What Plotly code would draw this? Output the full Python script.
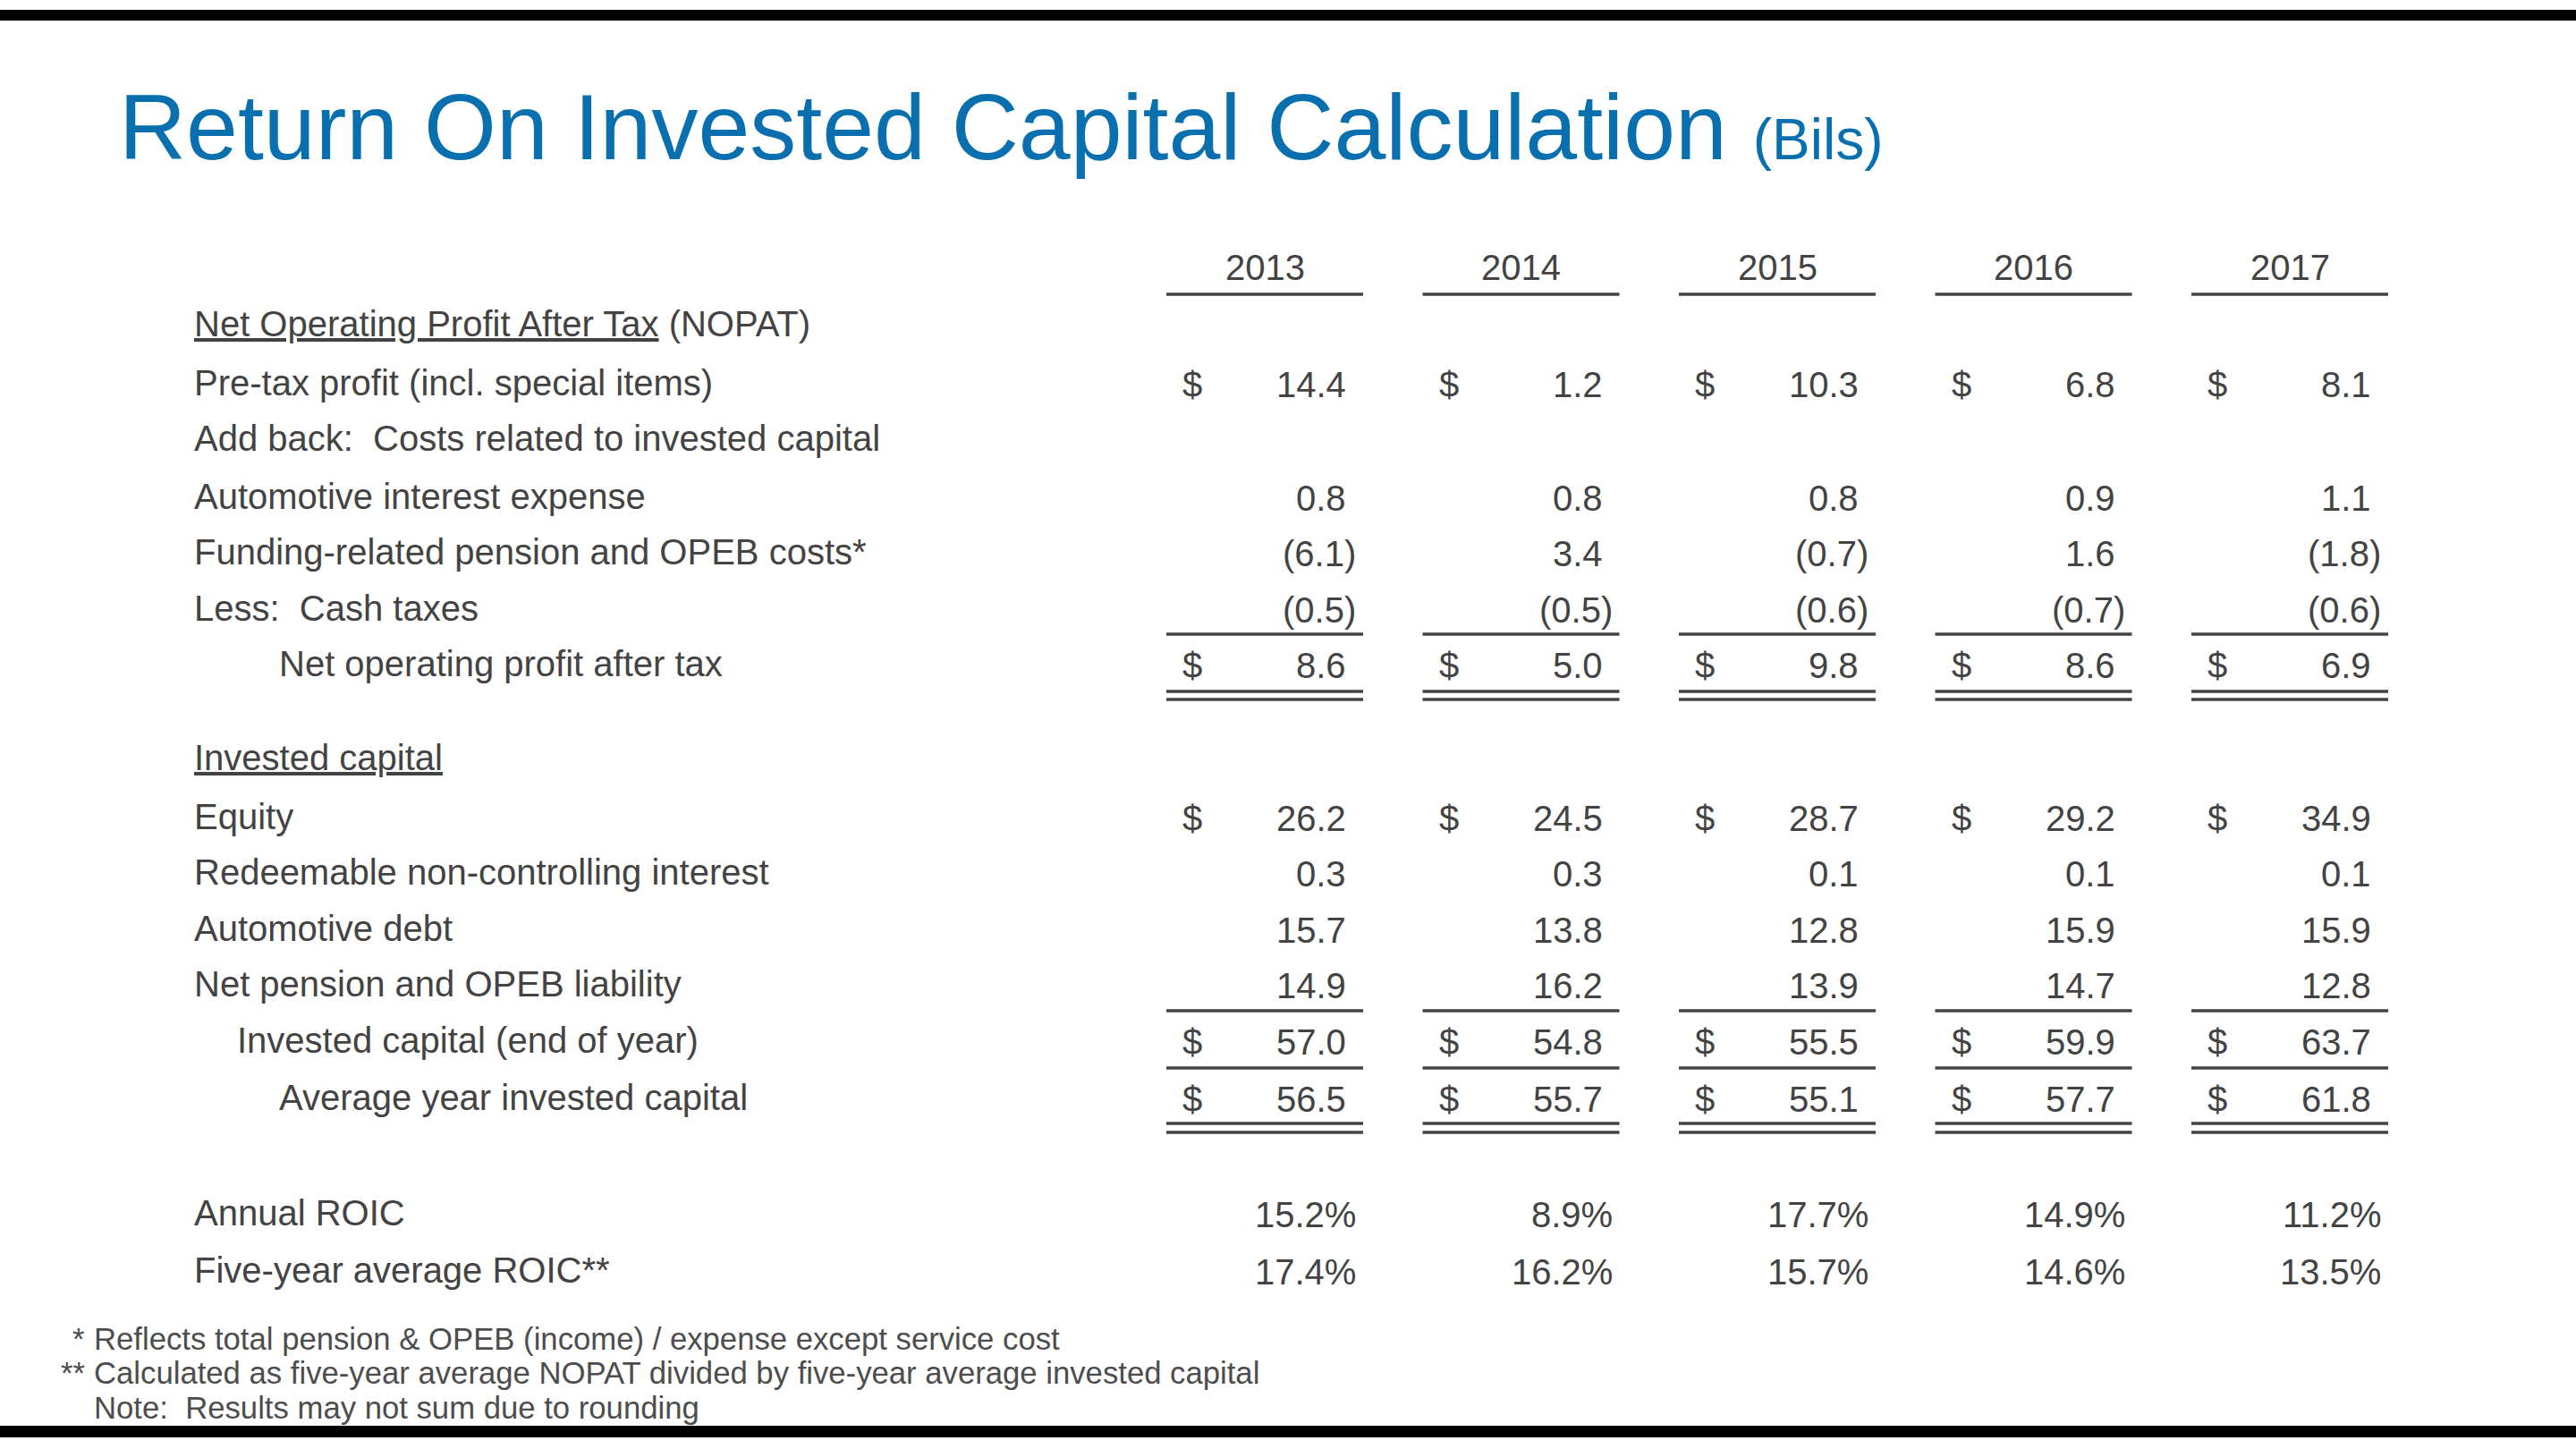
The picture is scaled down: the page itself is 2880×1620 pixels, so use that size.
import plotly.graph_objects as go

# ---------------- data ----------------
years = ["2013", "2014", "2015", "2016", "2017"]
pretax_profit = [14.4, 1.2, 10.3, 6.8, 8.1]
auto_interest = [0.8, 0.8, 0.8, 0.9, 1.1]
pension_costs = [-6.1, 3.4, -0.7, 1.6, -1.8]
cash_taxes = [-0.5, -0.5, -0.6, -0.7, -0.6]
nopat = [8.6, 5.0, 9.8, 8.6, 6.9]
equity = [26.2, 24.5, 28.7, 29.2, 34.9]
redeemable_nci = [0.3, 0.3, 0.1, 0.1, 0.1]
auto_debt = [15.7, 13.8, 12.8, 15.9, 15.9]
pension_liability = [14.9, 16.2, 13.9, 14.7, 12.8]
ic_end = [57.0, 54.8, 55.5, 59.9, 63.7]
ic_avg = [56.5, 55.7, 55.1, 57.7, 61.8]
annual_roic = [15.2, 8.9, 17.7, 14.9, 11.2]
five_year_roic = [17.4, 16.2, 15.7, 14.6, 13.5]

footnotes = [
    ("*", "Reflects total pension & OPEB (income) / expense except service cost"),
    ("**", "Calculated as five-year average NOPAT divided by five-year average invested capital"),
    ("", "Note:  Results may not sum due to rounding"),
]

# rows: (label, indent level, values, dollar sign, kind)
rows = [
    ("<u>Net Operating Profit After Tax</u> (NOPAT)", 0, None, False, "num"),
    ("Pre-tax profit (incl. special items)", 0, pretax_profit, True, "num"),
    ("Add back:  Costs related to invested capital", 0, None, False, "num"),
    ("Automotive interest expense", 0, auto_interest, False, "num"),
    ("Funding-related pension and OPEB costs*", 0, pension_costs, False, "num"),
    ("Less:  Cash taxes", 0, cash_taxes, False, "num"),
    ("Net operating profit after tax", 2, nopat, True, "num"),
    ("<u>Invested capital</u>", 0, None, False, "num"),
    ("Equity", 0, equity, True, "num"),
    ("Redeemable non-controlling interest", 0, redeemable_nci, False, "num"),
    ("Automotive debt", 0, auto_debt, False, "num"),
    ("Net pension and OPEB liability", 0, pension_liability, False, "num"),
    ("Invested capital (end of year)", 1, ic_end, True, "num"),
    ("Average year invested capital", 2, ic_avg, True, "num"),
    ("Annual ROIC", 0, annual_roic, False, "pct"),
    ("Five-year average ROIC**", 0, five_year_roic, False, "pct"),
]

# ---------------- layout constants ----------------
W, H = 2880, 1620
ROW_Y = [362, 428, 490, 555, 617, 680, 742, 847, 913, 975, 1038, 1100, 1163, 1227, 1356, 1420]
LABEL_X = 215
INDENT = [0, 48, 95]
COL0 = 1304
COL_STEP = 286.5
COL_W = 220
HEADER_Y = 299
HEADER_LINE_Y = 329
SINGLE_LINES = [709, 1130, 1194]
DOUBLE_LINES = [(773, 782), (1256, 1266)]
FOOT_Y = [1497, 1535, 1574]

TEXT = "#434343"
BLUE = "#0a6fae"
BODY_FONT = "Liberation Sans, Arial, sans-serif"
TITLE_FONT = "Liberation Sans, Arial, sans-serif"
FOOT_FONT = "Liberation Sans, Arial, sans-serif"
BODY_SIZE = 40

fig = go.Figure()
fig.add_trace(go.Scatter(x=[0, W], y=[0, H], mode="markers",
                         marker=dict(opacity=0), hoverinfo="skip", showlegend=False))

ann = []
shapes = []

# black bars
shapes.append(dict(type="rect", x0=0, x1=W, y0=11, y1=23, fillcolor="black", line_width=0, layer="above"))
shapes.append(dict(type="rect", x0=0, x1=W, y0=1594, y1=1607, fillcolor="black", line_width=0, layer="above"))

# title
ann.append(dict(x=131, y=142, xanchor="left", yanchor="middle",
                text="Return On Invested Capital Calculation <span style='font-size:64px'>(Bils)</span>",
                font=dict(family=TITLE_FONT, size=104, color=BLUE), showarrow=False))


def fmt(v, kind):
    if kind == "pct":
        return f"{v:.1f}%"
    if v < 0:
        return f"({abs(v):.1f})"
    return f"{v:.1f}"


for i, yr in enumerate(years):
    left = COL0 + i * COL_STEP
    ann.append(dict(x=left + COL_W / 2, y=HEADER_Y, text=yr, xanchor="center", yanchor="middle",
                    font=dict(family=BODY_FONT, size=BODY_SIZE, color=TEXT), showarrow=False))
    shapes.append(dict(type="line", x0=left, x1=left + COL_W, y0=HEADER_LINE_Y, y1=HEADER_LINE_Y,
                       line=dict(color=TEXT, width=3.5)))
    for yl in SINGLE_LINES:
        shapes.append(dict(type="line", x0=left, x1=left + COL_W, y0=yl, y1=yl,
                           line=dict(color=TEXT, width=3.5)))
    for ya, yb in DOUBLE_LINES:
        for yl in (ya, yb):
            shapes.append(dict(type="line", x0=left, x1=left + COL_W, y0=yl, y1=yl,
                               line=dict(color=TEXT, width=3.5)))

for r, (label, ind, vals, dollar, kind) in enumerate(rows):
    y = ROW_Y[r]
    ann.append(dict(x=LABEL_X + INDENT[ind], y=y, text=label, xanchor="left", yanchor="middle",
                    font=dict(family=BODY_FONT, size=BODY_SIZE, color=TEXT), showarrow=False))
    if vals is None:
        continue
    for i, v in enumerate(vals):
        left = COL0 + i * COL_STEP
        hang = (v < 0) or kind == "pct"
        xr = left + (214 if hang else 203)
        ann.append(dict(x=xr, y=y + 2, text=fmt(v, kind), xanchor="right", yanchor="middle",
                        font=dict(family=BODY_FONT, size=BODY_SIZE, color=TEXT), showarrow=False))
        if dollar:
            ann.append(dict(x=left + 16, y=y + 2, text="$", xanchor="left", yanchor="middle",
                            font=dict(family=BODY_FONT, size=BODY_SIZE, color=TEXT), showarrow=False))

for (mark, txt), y in zip(footnotes, FOOT_Y):
    if mark:
        ann.append(dict(x=97, y=y, text=mark, xanchor="right", yanchor="middle",
                        font=dict(family=FOOT_FONT, size=34.7, color="#4d4d4d"), showarrow=False))
    ann.append(dict(x=103, y=y, text=txt, xanchor="left", yanchor="middle",
                    font=dict(family=FOOT_FONT, size=34.7, color="#4d4d4d"), showarrow=False))

fig.update_layout(
    width=W, height=H,
    margin=dict(l=0, r=0, t=0, b=0),
    paper_bgcolor="white", plot_bgcolor="white",
    xaxis=dict(range=[0, W], visible=False, fixedrange=True),
    yaxis=dict(range=[H, 0], visible=False, fixedrange=True),
    annotations=ann, shapes=shapes, showlegend=False,
)

fig.write_html("out.html", config={"displayModeBar": False},
               post_script="document.body.style.margin='0';document.body.style.overflow='hidden';")
